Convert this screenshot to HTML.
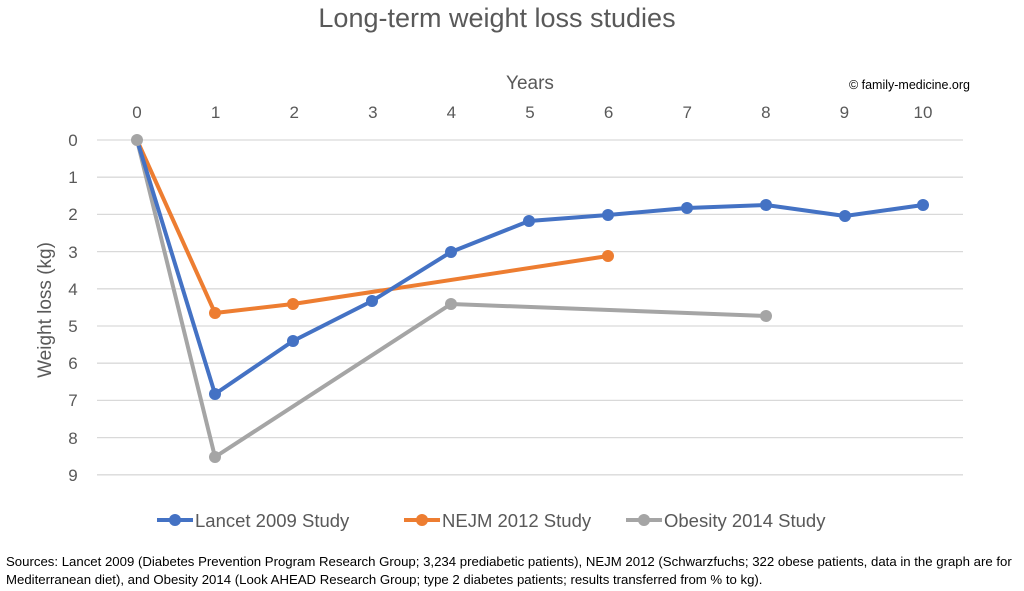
<!DOCTYPE html>
<html><head><meta charset="utf-8"><style>
body{margin:0;background:#fff;width:1024px;height:591px;overflow:hidden}
svg{display:block;font-family:"Liberation Sans",sans-serif}
.t{fill:#595959;font-size:17px;text-anchor:middle}
</style></head><body>
<svg width="1024" height="591" viewBox="0 0 1024 591">
<text x="497" y="27" font-size="27" fill="#595959" text-anchor="middle">Long-term weight loss studies</text>
<text x="530" y="89" font-size="19" fill="#595959" text-anchor="middle">Years</text>
<text x="970" y="89" font-size="12.5" fill="#000" text-anchor="end">© family-medicine.org</text>
<g stroke="#d9d9d9" stroke-width="1.3">
<line x1="97" x2="963" y1="140" y2="140"/><line x1="97" x2="963" y1="177.2" y2="177.2"/>
<line x1="97" x2="963" y1="214.4" y2="214.4"/><line x1="97" x2="963" y1="251.6" y2="251.6"/>
<line x1="97" x2="963" y1="288.8" y2="288.8"/><line x1="97" x2="963" y1="326" y2="326"/>
<line x1="97" x2="963" y1="363.2" y2="363.2"/><line x1="97" x2="963" y1="400.4" y2="400.4"/>
<line x1="97" x2="963" y1="437.6" y2="437.6"/><line x1="97" x2="963" y1="474.8" y2="474.8"/>
</g>
<g class="t">
<text x="137" y="118" class="t">0</text><text x="215.6" y="118" class="t">1</text><text x="294.2" y="118" class="t">2</text>
<text x="372.8" y="118" class="t">3</text><text x="451.4" y="118" class="t">4</text><text x="530" y="118" class="t">5</text>
<text x="608.6" y="118" class="t">6</text><text x="687.2" y="118" class="t">7</text><text x="765.8" y="118" class="t">8</text>
<text x="844.4" y="118" class="t">9</text><text x="923" y="118" class="t">10</text>
<text x="73" y="146" class="t">0</text><text x="73" y="183" class="t">1</text><text x="73" y="220" class="t">2</text>
<text x="73" y="258" class="t">3</text><text x="73" y="295" class="t">4</text><text x="73" y="332" class="t">5</text>
<text x="73" y="369" class="t">6</text><text x="73" y="406" class="t">7</text><text x="73" y="444" class="t">8</text>
<text x="73" y="481" class="t">9</text>
</g>
<text transform="translate(51,310) rotate(-90)" font-size="19" fill="#595959" text-anchor="middle">Weight loss (kg)</text>
<g fill="none" stroke-width="4" stroke-linejoin="round">
<polyline stroke="#A5A5A5" points="137,140 215,457 451,304 766,316"/>
<polyline stroke="#ED7D31" points="137,140 215,313 293,304 608,256"/>
<polyline stroke="#4472C4" points="137,140 215,394 293,341 372,301 451,252 529,221 608,215 687,208 766,205 845,216 923,205"/>
</g>
<g fill="#4472C4"><circle cx="215" cy="394" r="6"/><circle cx="293" cy="341" r="6"/><circle cx="372" cy="301" r="6"/><circle cx="451" cy="252" r="6"/><circle cx="529" cy="221" r="6"/><circle cx="608" cy="215" r="6"/><circle cx="687" cy="208" r="6"/><circle cx="766" cy="205" r="6"/><circle cx="845" cy="216" r="6"/><circle cx="923" cy="205" r="6"/></g>
<g fill="#ED7D31"><circle cx="215" cy="313" r="6"/><circle cx="293" cy="304" r="6"/><circle cx="608" cy="256" r="6"/></g>
<g fill="#A5A5A5"><circle cx="137" cy="140" r="6"/><circle cx="215" cy="457" r="6"/><circle cx="451" cy="304" r="6"/><circle cx="766" cy="316" r="6"/></g>
<g stroke-width="4">
<line x1="157" x2="193" y1="520" y2="520" stroke="#4472C4"/><circle cx="175" cy="520" r="6" fill="#4472C4"/>
<line x1="404" x2="440" y1="520" y2="520" stroke="#ED7D31"/><circle cx="422" cy="520" r="6" fill="#ED7D31"/>
<line x1="626" x2="662" y1="520" y2="520" stroke="#A5A5A5"/><circle cx="644" cy="520" r="6" fill="#A5A5A5"/>
</g>
<g font-size="18.5" fill="#595959">
<text x="195" y="527">Lancet 2009 Study</text>
<text x="442" y="527">NEJM 2012 Study</text>
<text x="664" y="527">Obesity 2014 Study</text>
</g>
<g font-size="13.2" fill="#000">
<text x="6" y="566">Sources: Lancet 2009 (Diabetes Prevention Program Research Group; 3,234 prediabetic patients), NEJM 2012 (Schwarzfuchs; 322 obese patients, data in the graph are for</text>
<text x="6" y="584">Mediterranean diet), and Obesity 2014 (Look AHEAD Research Group; type 2 diabetes patients; results transferred from % to kg).</text>
</g>
</svg>
</body></html>
